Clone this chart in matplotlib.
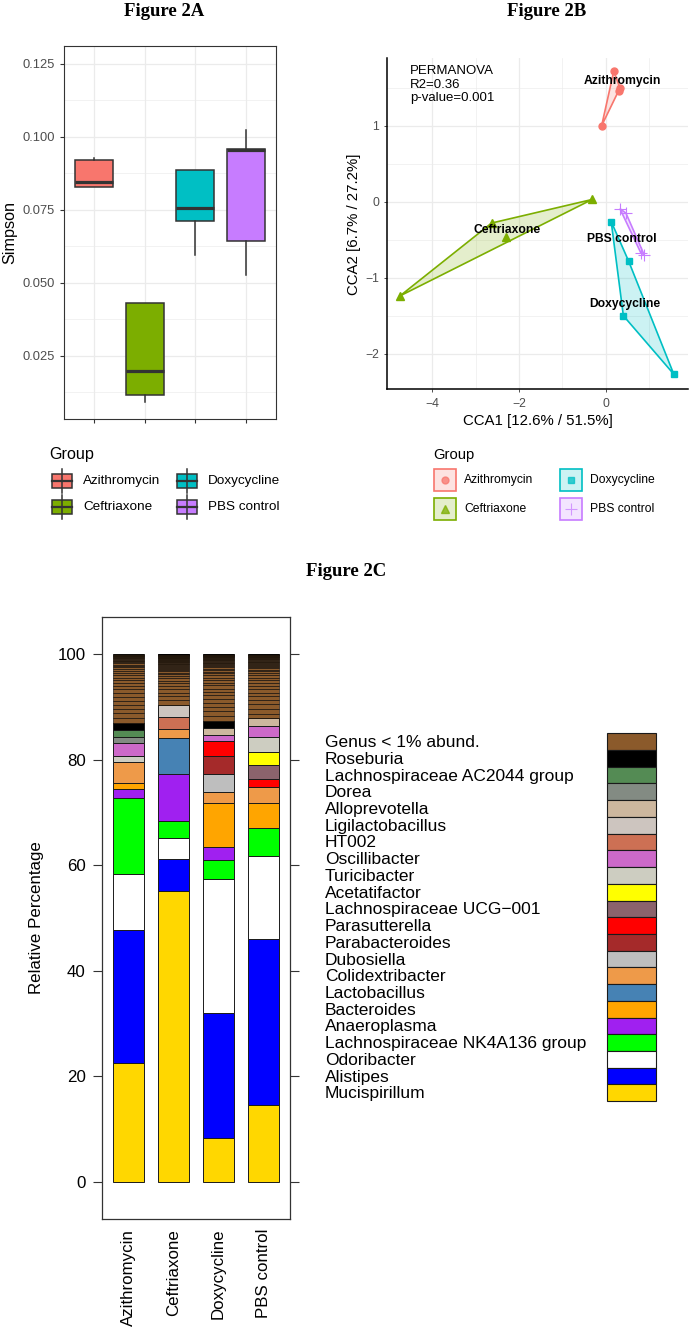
import matplotlib
matplotlib.use('Agg')
import matplotlib.pyplot as plt
from matplotlib.patches import Rectangle, Polygon
from matplotlib.colors import to_rgba
import numpy as np

plt.rcParams['font.family'] = ['Liberation Sans', 'DejaVu Sans']

# ----------------------------- data -----------------------------
groups = ['Azithromycin', 'Ceftriaxone', 'Doxycycline', 'PBS control']
group_colors = ['#F8766D', '#7CAE00', '#00BFC4', '#C77CFF']
group_markers = ['o', '^', 's', '+']

# Figure 2A: Simpson index box statistics
simpson_whislo = [0.0829, 0.0091, 0.0594, 0.0527]
simpson_q1 = [0.0829, 0.0115, 0.0710, 0.0641]
simpson_med = [0.0845, 0.0197, 0.0757, 0.0955]
simpson_q3 = [0.0920, 0.0432, 0.0886, 0.0958]
simpson_whishi = [0.0926, 0.0432, 0.0886, 0.1022]
simpson_ticks = [0.025, 0.050, 0.075, 0.100, 0.125]

# Figure 2B: CCA ordination
cca1_azi = [0.18, 0.32, 0.29, -0.10]
cca2_azi = [1.72, 1.50, 1.46, 1.00]
cca1_cef = [-0.32, -2.63, -2.31, -4.74]
cca2_cef = [0.03, -0.28, -0.47, -1.24]
cca1_dox = [0.12, 0.52, 0.40, 1.56]
cca2_dox = [-0.26, -0.78, -1.50, -2.27]
cca1_pbs = [0.32, 0.46, 0.80, 0.88]
cca2_pbs = [-0.09, -0.15, -0.67, -0.70]
label_x = [0.38, -2.27, 0.44, 0.36]
label_y = [1.59, -0.37, -1.35, -0.49]
permanova_text = 'PERMANOVA\nR2=0.36\np-value=0.001'

# Figure 2C: relative abundance (bottom -> top)
genera = ['Mucispirillum', 'Alistipes', 'Odoribacter', 'Lachnospiraceae NK4A136 group',
          'Anaeroplasma', 'Bacteroides', 'Lactobacillus', 'Colidextribacter', 'Dubosiella',
          'Parabacteroides', 'Parasutterella', 'Lachnospiraceae UCG\u2212001', 'Acetatifactor',
          'Turicibacter', 'Oscillibacter', 'HT002', 'Ligilactobacillus', 'Alloprevotella',
          'Dorea', 'Lachnospiraceae AC2044 group', 'Roseburia']
genus_colors = ['#FFD700', '#0000FF', '#FFFFFF', '#00FF00', '#A020F0', '#FFA500', '#4682B4',
                '#EE9A49', '#BEBEBE', '#A52A2A', '#FF0000', '#8B636C', '#FFFF00', '#CDCDC1',
                '#CD69C9', '#CD7054', '#CDC5BF', '#CDB79E', '#838B83', '#548B54', '#000000']
rare_label = 'Genus < 1% abund.'
rare_color = '#8B5A2B'

abund_azi = [22.5, 25.2, 10.6, 14.4, 1.7, 1.1, 0.0, 4.1, 0.0, 0.0, 0.0, 0.0, 0.0,
             1.1, 2.4, 0.0, 0.0, 0.0, 1.2, 1.3, 1.3]
abund_cef = [55.2, 5.9, 4.1, 3.1, 9.0, 0.0, 6.7, 1.8, 0.0, 0.0, 0.0, 0.0, 0.0,
             0.0, 0.0, 2.3, 2.3, 0.0, 0.0, 0.0, 0.0]
abund_dox = [8.3, 23.8, 25.2, 3.7, 2.5, 8.3, 0.0, 2.0, 3.5, 3.3, 3.0, 0.0, 0.0,
             0.0, 1.1, 0.0, 0.0, 1.3, 0.0, 0.0, 1.4]
abund_pbs = [14.6, 31.5, 15.6, 5.4, 0.0, 4.6, 0.0, 3.1, 0.0, 0.0, 1.5, 2.7, 2.5,
             2.7, 2.1, 0.0, 0.0, 1.5, 0.0, 0.0, 0.0]

# individual rare genera (< 1%), bottom -> top
rare_azi = [0.95, 0.9, 0.85, 0.8, 0.78, 0.75, 0.7, 0.66, 0.62, 0.58, 0.55, 0.5, 0.46, 0.42,
            0.38, 0.35, 0.32, 0.28, 0.25, 0.22, 0.2, 0.18, 0.16, 0.15, 0.14, 0.12, 0.11,
            0.1, 0.09, 0.08, 0.08, 0.07, 0.06, 0.05, 0.05, 0.04, 0.04, 0.03]
rare_cef = [0.8, 0.75, 0.7, 0.65, 0.6, 0.55, 0.5, 0.45, 0.4, 0.36, 0.32, 0.28, 0.22, 0.2,
            0.19, 0.18, 0.17, 0.16, 0.15, 0.14, 0.13, 0.12, 0.12, 0.11, 0.1, 0.1, 0.09,
            0.09, 0.08, 0.08, 0.07, 0.07, 0.06, 0.06, 0.05, 0.05, 0.05, 0.04, 0.04, 0.04,
            0.03, 0.03, 0.03, 0.03, 0.02, 0.02, 0.02, 0.02, 0.02, 0.02, 0.02, 0.02]
rare_dox = [0.9, 0.85, 0.8, 0.78, 0.74, 0.7, 0.66, 0.62, 0.58, 0.54, 0.5, 0.46, 0.42, 0.38,
            0.34, 0.3, 0.27, 0.22, 0.2, 0.19, 0.18, 0.17, 0.16, 0.15, 0.14, 0.13, 0.12,
            0.11, 0.1, 0.09, 0.08, 0.08, 0.07, 0.06, 0.06, 0.05, 0.05, 0.05, 0.04, 0.04,
            0.04, 0.03, 0.03, 0.02, 0.02, 0.02, 0.02]
rare_pbs = [0.92, 0.88, 0.84, 0.8, 0.75, 0.7, 0.65, 0.6, 0.56, 0.52, 0.48, 0.44, 0.4, 0.36,
            0.32, 0.28, 0.22, 0.2, 0.19, 0.18, 0.17, 0.16, 0.15, 0.14, 0.13, 0.12, 0.11,
            0.1, 0.09, 0.08, 0.08, 0.07, 0.06, 0.06, 0.05, 0.05, 0.05, 0.04, 0.04, 0.04,
            0.03, 0.03, 0.02, 0.02]
pct_ticks = [0, 20, 40, 60, 80, 100]

# ----------------------------- figure -----------------------------
W, H = 692, 1342
fig = plt.figure(figsize=(W / 100, H / 100), dpi=100)


def ax_px(l, t, r, b):
    return fig.add_axes([l / W, 1 - b / H, (r - l) / W, (b - t) / H])


title_kw = dict(family=['Liberation Serif', 'DejaVu Serif'], weight='bold', fontsize=13.5,
                ha='center', va='center')
fig.text(164 / W, 1 - 12 / H, 'Figure 2A', **title_kw)
fig.text(547 / W, 1 - 12 / H, 'Figure 2B', **title_kw)
fig.text(346 / W, 1 - 572 / H, 'Figure 2C', **title_kw)

# ----------------------------- Figure 2A -----------------------------
axA = ax_px(64, 45.5, 276, 418.5)
stats = []
for i, g in enumerate(groups):
    stats.append(dict(med=simpson_med[i], q1=simpson_q1[i], q3=simpson_q3[i],
                      whislo=simpson_whislo[i], whishi=simpson_whishi[i], fliers=[], label=g))
bp = axA.bxp(stats, positions=[1, 2, 3, 4], widths=0.75, patch_artist=True, showcaps=False,
             manage_ticks=False,
             boxprops=dict(edgecolor='#333333', linewidth=1.1),
             medianprops=dict(color='#333333', linewidth=2.3, solid_capstyle='butt'),
             whiskerprops=dict(color='#333333', linewidth=1.1))
for patch, c in zip(bp['boxes'], group_colors):
    patch.set_facecolor(c)
axA.set_xlim(0.4, 4.6)
axA.set_ylim(0.0035, 0.1312)
axA.set_yticks(simpson_ticks)
axA.set_yticklabels(['%.3f' % t for t in simpson_ticks])
axA.set_yticks([0.0125, 0.0375, 0.0625, 0.0875, 0.1125], minor=True)
axA.set_xticks([1, 2, 3, 4])
axA.set_xticklabels([])
axA.grid(which='major', color='#EBEBEB', lw=0.9)
axA.grid(which='minor', axis='y', color='#EBEBEB', lw=0.45)
axA.set_axisbelow(True)
axA.tick_params(which='minor', length=0)
axA.tick_params(which='major', length=3, color='#333333', width=0.8, labelsize=9.3,
                labelcolor='#4D4D4D')
for s in axA.spines.values():
    s.set_color('#333333')
    s.set_linewidth(0.8)
axA.set_ylabel('Simpson', fontsize=11.6, labelpad=4)

# ----------------------------- Figure 2B -----------------------------
axB = ax_px(387.3, 58.2, 687.7, 389.4)
axB.set_xlim(-5.03, 1.88)
axB.set_ylim(-2.47, 1.89)
axB.set_xticks([-4, -2, 0])
axB.set_xticks([-3, -1, 1], minor=True)
axB.set_yticks([-2, -1, 0, 1])
axB.set_yticks([-1.5, -0.5, 0.5, 1.5], minor=True)
axB.grid(which='major', color='#EBEBEB', lw=0.9)
axB.grid(which='minor', color='#EBEBEB', lw=0.45)
axB.set_axisbelow(True)
axB.tick_params(which='minor', length=0)
axB.tick_params(which='major', length=2.5, color='#333333', width=0.6, labelsize=8.8,
                labelcolor='#4D4D4D')
for side in ['top', 'right']:
    axB.spines[side].set_visible(False)
for side in ['left', 'bottom']:
    axB.spines[side].set_color('black')
    axB.spines[side].set_linewidth(1.1)
axB.set_xlabel('CCA1 [12.6% / 51.5%]', fontsize=10.8, labelpad=3)
axB.set_ylabel('CCA2 [6.7% / 27.2%]', fontsize=10.8, labelpad=3)


def convex_hull(px, py):
    pts = sorted(set(zip(px, py)))
    if len(pts) <= 2:
        return pts

    def cross(o, a, b):
        return (a[0] - o[0]) * (b[1] - o[1]) - (a[1] - o[1]) * (b[0] - o[0])
    lower, upper = [], []
    for p in pts:
        while len(lower) >= 2 and cross(lower[-2], lower[-1], p) <= 0:
            lower.pop()
        lower.append(p)
    for p in reversed(pts):
        while len(upper) >= 2 and cross(upper[-2], upper[-1], p) <= 0:
            upper.pop()
        upper.append(p)
    return lower[:-1] + upper[:-1]


cca1 = [cca1_azi, cca1_cef, cca1_dox, cca1_pbs]
cca2 = [cca2_azi, cca2_cef, cca2_dox, cca2_pbs]
msizes = [5, 6, 5, 8]
medges = [1.0, 1.0, 1.0, 0.8]
for i in range(4):
    hull = convex_hull(cca1[i], cca2[i])
    axB.add_patch(Polygon(hull, closed=True, facecolor=to_rgba(group_colors[i], 0.2),
                          edgecolor=group_colors[i], linewidth=1.2, zorder=2))
    axB.plot(cca1[i], cca2[i], linestyle='none', marker=group_markers[i],
             color=group_colors[i], markersize=msizes[i], markeredgewidth=medges[i], zorder=3)
    axB.text(label_x[i], label_y[i], groups[i], fontsize=8.7, weight='bold', ha='center',
             va='center', zorder=4)
axB.text(0.076, 0.978, permanova_text, transform=axB.transAxes, fontsize=9.5, ha='left',
         va='top', linespacing=1.15)

# ----------------------------- Figure 2C -----------------------------
axC = ax_px(102, 617, 290, 1219)
xpos = np.arange(len(groups))
bar_w = 0.69
abund = [abund_azi, abund_cef, abund_dox, abund_pbs]
rare = [rare_azi, rare_cef, rare_dox, rare_pbs]
bottoms = np.zeros(len(groups))
for gi in range(len(genera)):
    vals = np.array([abund[j][gi] for j in range(len(groups))])
    for j in range(len(groups)):
        if vals[j] > 0:
            axC.bar(xpos[j], vals[j], bottom=bottoms[j], width=bar_w, color=genus_colors[gi],
                    edgecolor='#1a1a1a', linewidth=0.7)
    bottoms += vals
for j in range(len(groups)):
    stripes = np.array(rare[j])
    starts = bottoms[j] + np.concatenate([[0], np.cumsum(stripes)[:-1]])
    axC.bar(np.full(len(stripes), xpos[j]), stripes, bottom=starts, width=bar_w,
            color=rare_color, edgecolor='black', linewidth=0.4)
axC.set_xlim(-0.59, 3.59)
axC.set_ylim(-7, 107)
axC.set_yticks(pct_ticks)
axC.set_xticks(xpos)
axC.set_xticklabels(groups, rotation=90, fontsize=12.2)
axC.tick_params(axis='x', length=0, pad=7)
axC.tick_params(axis='y', left=True, right=True, labelright=False, direction='out',
                length=6.3, width=0.8, pad=5.5, labelsize=12.2, color='#333333')
for s in axC.spines.values():
    s.set_color('#333333')
    s.set_linewidth(0.9)
axC.set_ylabel('Relative Percentage', fontsize=12.2, labelpad=10)

# ----------------------------- legends (pixel overlay) -----------------------------
ov = fig.add_axes([0, 0, 1, 1])
ov.set_xlim(0, W)
ov.set_ylim(H, 0)
ov.axis('off')

# 2A legend
ov.text(49, 454, 'Group', fontsize=11.6, ha='left', va='center')
legA_pos = [(52, 481), (52, 507), (177, 481), (177, 507)]
for k, (kx, ky) in zip(range(4), legA_pos):
    ov.plot([kx + 10, kx + 10], [ky - 12, ky + 12], color='#333333', lw=1.1)
    ov.add_patch(Rectangle((kx, ky - 7), 20, 14, facecolor=group_colors[k],
                           edgecolor='#333333', lw=1.1))
    ov.plot([kx, kx + 20], [ky, ky], color='#333333', lw=1.6)
    ov.text(kx + 31, ky, groups[k], fontsize=9.7, ha='left', va='center')

# 2B legend
ov.text(433, 455.5, 'Group', fontsize=10.6, ha='left', va='center')
legB_pos = [(434, 480), (434, 508.5), (560, 480), (560, 508.5)]
for k, (kx, ky) in zip(range(4), legB_pos):
    ov.add_patch(Rectangle((kx, ky - 11), 22, 22, facecolor=to_rgba(group_colors[k], 0.2),
                           edgecolor=group_colors[k], lw=1.2))
    ov.plot([kx + 11], [ky], marker=group_markers[k], color=group_colors[k],
            markersize=msizes[k], alpha=0.75, markeredgewidth=medges[k])
    ov.text(kx + 30, ky, groups[k], fontsize=8.7, ha='left', va='center')

# 2C legend
leg_labels = [rare_label] + genera[::-1]
leg_colors = [rare_color] + genus_colors[::-1]
row_h = 16.72
top0 = 733.3
for r, (lab, col) in enumerate(zip(leg_labels, leg_colors)):
    yc = top0 + row_h * (r + 0.5)
    ov.add_patch(Rectangle((607, top0 + row_h * r), 49, row_h, facecolor=col,
                           edgecolor='#1a1a1a', lw=0.8))
    ov.text(325, yc + 1, lab, fontsize=12.5, ha='left', va='center')

fig.savefig('out.png', dpi=100)
